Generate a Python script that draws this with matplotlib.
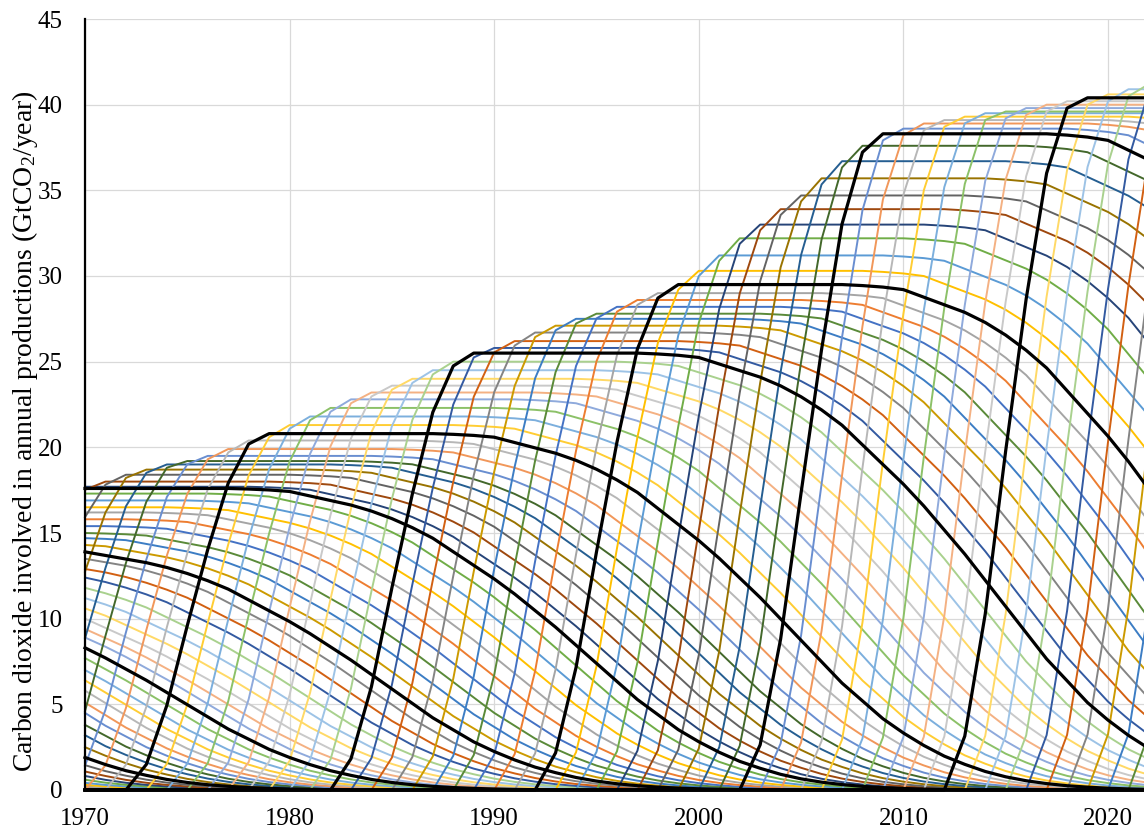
import numpy as np
import matplotlib
matplotlib.use("Agg")
import matplotlib.pyplot as plt

# ---------------- data ----------------
years = np.arange(1970, 2023)
# upper envelope (GtCO2/year), one value per year 1970..2022
envelope = [17.7, 18.0, 18.4, 18.7, 19.0, 19.2, 19.5, 19.9, 20.4, 20.8,
            21.3, 21.8, 22.3, 22.8, 23.2, 23.6, 24.0, 24.5, 25.0, 25.5,
            25.8, 26.2, 26.7, 27.1, 27.5, 27.8, 28.2, 28.6, 29.0, 29.5,
            30.3, 31.2, 32.2, 33.0, 33.9, 34.7, 35.7, 36.7, 37.6, 38.3,
            38.6, 38.9, 39.1, 39.3, 39.5, 39.6, 39.8, 40.0, 40.2, 40.4,
            40.6, 40.9, 41.2]
# rising share of the envelope, years before the peak year (-7..0)
rise_lags = [-7, -6, -5, -4, -3, -2, -1, 0]
rise_share = [0.0, 0.08, 0.26, 0.50, 0.72, 0.90, 0.99, 1.0]
# remaining share of the peak value, years after the peak year (0..44)
decay_share = [1.0, 1.0, 1.0, 1.0, 1.0, 1.0, 1.0, 1.0, 1.0, 0.998,
               0.995, 0.99, 0.975, 0.96, 0.945, 0.925, 0.90, 0.87, 0.835, 0.79,
               0.745, 0.70, 0.65, 0.595, 0.54, 0.48, 0.42, 0.36, 0.30, 0.25,
               0.20, 0.16, 0.125, 0.095, 0.072, 0.052, 0.037, 0.026, 0.018, 0.012,
               0.008, 0.005, 0.003, 0.0015, 0.0]
# cohorts peaking before 1970: value shown at 1970
early_cohorts = list(range(1930, 1970))
early_at_1970 = [0.08, 0.13, 0.2, 0.3, 0.42, 0.6, 0.82, 1.08, 1.45, 1.9,
                 2.5, 3.2, 3.8, 4.5, 5.1, 5.8, 6.4, 7.0, 7.7, 8.3,
                 8.9, 9.4, 10.0, 10.6, 11.2, 11.8, 12.4, 12.9, 13.5, 13.9,
                 14.3, 14.7, 15.0, 15.4, 15.8, 16.2, 16.5, 16.9, 17.3, 17.6]
late_cohorts = list(range(1970, 2029))
black_cohorts = [1939, 1949, 1959, 1969, 1979, 1989, 1999, 2009, 2019]

palette = ["#4472C4", "#ED7D31", "#A5A5A5", "#FFC000", "#5B9BD5", "#70AD47",
           "#264478", "#9E480E", "#636363", "#997300", "#255E91", "#43682B",
           "#698ED0", "#F1975A", "#B7B7B7", "#FFCD33", "#7CAFDD", "#8CC168",
           "#8FAADC", "#F4B183", "#C9C9C9", "#FFD966", "#9DC3E6", "#A9D18E",
           "#335AA1", "#D26012", "#848484", "#CC9A00", "#3C7DC4", "#5A8A39"]

# ---------------- build series ----------------
E = dict(zip(years, envelope))
F = dict(zip(rise_lags, rise_share))


def S(lag):
    if lag < 0:
        return 1.0
    if lag >= len(decay_share):
        return 0.0
    return decay_share[lag]


series = []
for b, v in zip(early_cohorts, early_at_1970):
    vals = [v * S(t - b) / S(1970 - b) for t in years]
    series.append((b, vals))
for b in late_cohorts:
    vals = []
    for t in years:
        lag = t - b
        if lag < -7:
            vals.append(0.0)
        elif lag <= 0:
            vals.append(E[t] * F[lag])
        else:
            vals.append(E[b] * S(lag))
    series.append((b, vals))

# ---------------- draw ----------------
plt.rcParams["font.family"] = ["Liberation Serif", "DejaVu Serif"]
fig = plt.figure(figsize=(11.44, 8.36), dpi=100)
ax = fig.add_axes([85 / 1144, 1 - 790 / 836, 1 - 85 / 1144, (790 - 19) / 836])

ci = 0
for b, vals in series:
    if b in black_cohorts:
        ax.plot(years, vals, color="black", lw=2.3, clip_on=False, zorder=3,
                solid_joinstyle="round")
    else:
        ax.plot(years, vals, color=palette[ci % len(palette)], lw=1.4,
                clip_on=False, zorder=2, solid_joinstyle="round")
        ci += 1

ax.set_xlim(1970, 2021.76)
ax.set_ylim(0, 45)
ax.set_xticks(np.arange(1970, 2030, 10))
ax.set_yticks(np.arange(0, 50, 5))
ax.grid(True, color="#D9D9D9", lw=0.9, zorder=0)
ax.set_axisbelow(True)
for s in ["top", "right", "bottom"]:
    ax.spines[s].set_visible(False)
ax.spines["left"].set_color("black")
ax.spines["left"].set_linewidth(1.6)
ax.spines["left"].set_zorder(5)
ax.tick_params(axis="both", length=0, labelsize=18)
ax.tick_params(axis="y", pad=16)
ax.tick_params(axis="x", pad=13)

fig.text(25 / 1144, 1 - 431 / 836,
         r"Carbon dioxide involved in annual productions (GtCO$\mathregular{_2}$/year)",
         rotation=90, ha="center", va="center", fontsize=20)

fig.savefig("out.png", dpi=100)
